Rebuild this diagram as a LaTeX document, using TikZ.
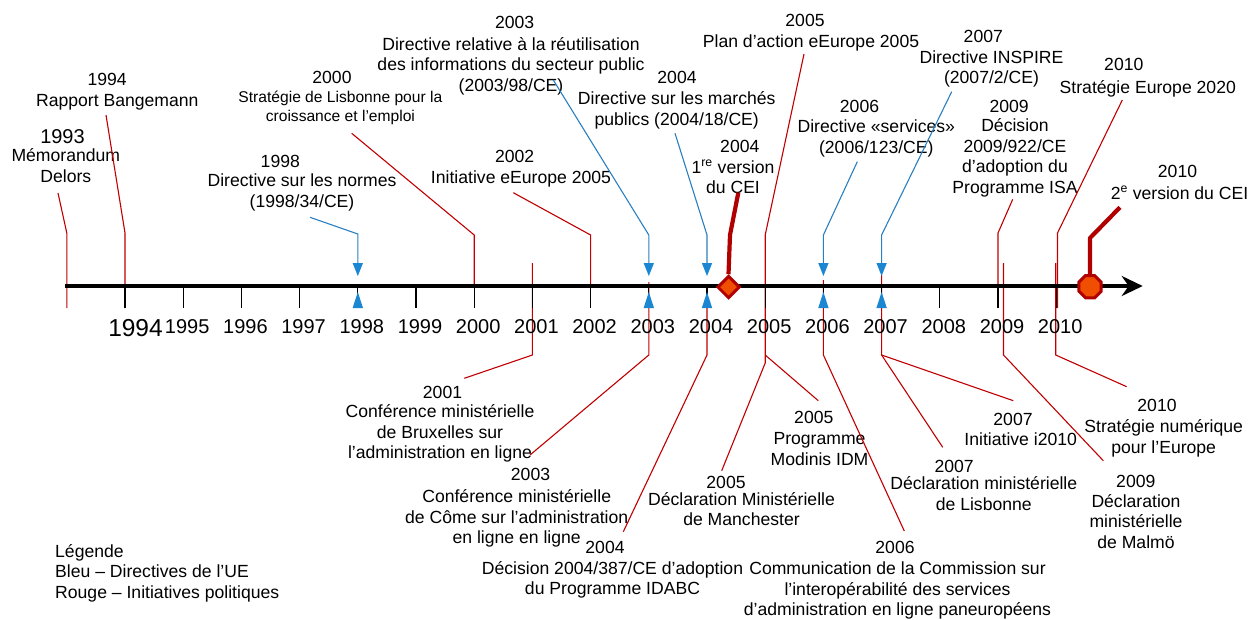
\documentclass[tikz,border=0pt]{standalone}
\usepackage{fontspec}
\setmainfont{Liberation Sans}
\usetikzlibrary{arrows.meta,shapes.geometric}
\definecolor{polred}{HTML}{C00000}
\definecolor{ceired}{HTML}{B00000}
\definecolor{ceiorange}{HTML}{F04E00}
\definecolor{dirblue}{HTML}{2A7FC0}
\definecolor{dirfill}{HTML}{1B87D3}
\begin{document}
\begin{tikzpicture}[x=1pt,y=-1pt,
  % multi-line labels are placed by the baseline of their last line
  txt/.style={align=center,inner sep=0pt,anchor=base,font=\fontsize{17.6}{20.5}\selectfont},
  smalltxt/.style={txt,font=\fontsize{15.6}{18.4}\selectfont},
  bigyear/.style={txt,font=\fontsize{20}{22}\selectfont},
  axyear/.style={inner sep=0pt,anchor=base,font=\fontsize{20}{22}\selectfont},
  pol/.style={draw=polred,line width=1.1pt},
  dir/.style={draw=dirblue,line width=1.1pt},
  ceiline/.style={draw=ceired,line width=4.2pt,line join=round},
  tickmark/.style={draw=black,line width=1.3pt},
  legendtxt/.style={align=left,inner sep=0pt,anchor=base west,font=\fontsize{17.6}{20.3}\selectfont}
]
\useasboundingbox (0,0) rectangle (1250,619);

% ---------- labels above the time axis ----------
\node[bigyear] (y1993) at (62.5,143.9) {1993};
\node[txt] (t1993) at (65.8,182.3) {Mémorandum\\Delors};
\node[txt] (y1994) at (107.2,85.6) {1994};
\node[txt] (t1994) at (117.3,106.3) {Rapport Bangemann};
\node[txt] (y2000) at (332,83.6) {2000};
\node[smalltxt] (t2000) at (340.4,121.3) {Stratégie de Lisbonne pour la\\croissance et l’emploi};
\node[txt] (y1998) at (280.3,167) {1998};
\node[txt] (t1998) at (302,207.3) {Directive sur les normes\\(1998/34/CE)};
\node[txt] (y2003a) at (514.7,28) {2003};
\node[txt] (t2003a) at (511,91.3) {Directive relative à la réutilisation\\des informations du secteur public\\(2003/98/CE)};
\node[txt] (y2004a) at (677,83.6) {2004};
\node[txt] (t2004a) at (676.7,125.3) {Directive sur les marchés\\publics (2004/18/CE)};
\node[txt] (y2002) at (514.7,162) {2002};
\node[txt] (t2002) at (521,183) {Initiative eEurope 2005};
\node[txt] (y2004c) at (739.8,152) {2004};
\node[txt] (t2004c) at (733,193.6) {1\textsuperscript{re} version\\du CEI};
\node[txt] (y2005a) at (805,26.3) {2005};
\node[txt] (t2005a) at (811,47) {Plan d’action eEurope 2005};
\node[txt] (y2007a) at (983.3,42.3) {2007};
\node[txt] (t2007a) at (991.5,83.6) {Directive INSPIRE\\(2007/2/CE)};
\node[txt] (y2006a) at (859.5,112) {2006};
\node[txt] (t2006a) at (876.3,153) {Directive «services»\\(2006/123/CE)};
\node[txt] (y2009a) at (1009.2,112.3) {2009};
\node[txt] (t2009a) at (1015,193) {Décision\\2009/922/CE\\d’adoption du\\Programme ISA};
\node[txt] (y2010a) at (1123.8,70.6) {2010};
\node[txt] (t2010a) at (1147.8,93) {Stratégie Europe 2020};
\node[txt] (y2010c) at (1177.5,177) {2010};
\node[txt] (t2010c) at (1179.5,199) {2\textsuperscript{e} version du CEI};

% ---------- labels below the time axis ----------
\node[txt] (y2001b) at (442.5,398) {2001};
\node[txt] (t2001b) at (440,458.6) {Conférence ministérielle\\de Bruxelles sur\\l’administration en ligne};
\node[txt] (y2003b) at (530.5,480.3) {2003};
\node[txt] (t2003b) at (516.7,543.6) {Conférence ministérielle\\de Côme sur l’administration\\en ligne en ligne};
\node[txt] (y2004b) at (605,553.6) {2004};
\node[txt] (t2004b) at (612.5,594.6) {Décision 2004/387/CE d’adoption\\du Programme IDABC};
\node[txt] (y2005m) at (726,488.6) {2005};
\node[txt] (t2005m) at (741.5,525.6) {Déclaration Ministérielle\\de Manchester};
\node[txt] (y2005p) at (813.8,423.6) {2005};
\node[txt] (t2005p) at (819.5,465.3) {Programme\\Modinis IDM};
\node[txt] (y2006b) at (895,553.6) {2006};
\node[txt] (t2006b) at (897.5,615.6) {Communication de la Commission sur\\l’interopérabilité des services\\d’administration en ligne paneuropéens};
\node[txt] (y2007i) at (1013,425.6) {2007};
\node[txt] (t2007i) at (1020.7,445.6) {Initiative i2010};
\node[txt] (y2007l) at (954.2,472) {2007};
\node[txt] (t2007l) at (983.8,510.3) {Déclaration ministérielle\\de Lisbonne};
\node[txt] (y2009b) at (1135.8,487.3) {2009};
\node[txt] (t2009b) at (1136,548) {Déclaration\\ministérielle\\de Malmö};
\node[txt] (y2010b) at (1157,411.3) {2010};
\node[txt] (t2010b) at (1163.7,453) {Stratégie numérique\\pour l’Europe};

% legend
\node[legendtxt] (legend) at (55,598) {Légende\\Bleu – Directives de l’UE\\Rouge – Initiatives politiques};

% ---------- connector points ----------
% policy initiatives above the axis
\coordinate (s93) at (58,193);      \coordinate (k93) at (66.8,233);   \coordinate (e93) at (66.8,308);
\coordinate (s94) at (106,115);     \coordinate (k94) at (125,233);    \coordinate (e94) at (125,308);
\coordinate (s00) at (351.7,133.3); \coordinate (k00) at (474.2,235);  \coordinate (e00) at (474.2,286);
\coordinate (s02) at (513.3,192.7); \coordinate (k02) at (590.6,235);  \coordinate (e02) at (590.6,286);
\coordinate (s05) at (804,54);      \coordinate (k05) at (765.2,235);  \coordinate (m05) at (765.2,355);
\coordinate (n05) at (765.2,363);   \coordinate (e05m) at (721.7,470.7); \coordinate (e05p) at (818.3,400.7);
\coordinate (s09) at (1012.7,199.3); \coordinate (k09) at (998,233);   \coordinate (e09) at (998,286);
\coordinate (s10) at (1122.3,100);  \coordinate (k10) at (1057.5,233); \coordinate (e10) at (1057.5,308);
% EU directives
\coordinate (s98) at (310,217.3);   \coordinate (k98) at (357.8,234);  \coordinate (e98) at (357.8,263);
\coordinate (s03) at (553.3,80);    \coordinate (k03) at (648.8,235);  \coordinate (e03) at (648.8,263);
\coordinate (s04) at (675,133.3);   \coordinate (k04) at (707,235);    \coordinate (e04) at (707,263);
\coordinate (s06) at (857.3,161.7); \coordinate (k06) at (823.4,235);  \coordinate (e06) at (823.4,263);
\coordinate (s07) at (951.7,91.7);  \coordinate (k07) at (881.6,235);  \coordinate (e07) at (881.6,263);
% policy initiatives below the axis
\coordinate (u01) at (532.4,263);   \coordinate (m01) at (532.4,355);  \coordinate (e01b) at (464.3,378.3);
\coordinate (u03) at (648.8,282);   \coordinate (m03) at (648.8,355);  \coordinate (e03b) at (530,455);
\coordinate (u04) at (707,290);     \coordinate (m04) at (707,355);    \coordinate (e04b) at (623.3,531.7);
\coordinate (u06) at (823.4,280);   \coordinate (m06) at (823.4,355);  \coordinate (e06b) at (904.3,531);
\coordinate (u07) at (881.6,275);   \coordinate (m07) at (881.6,355);
\coordinate (e07l) at (942.7,447.3); \coordinate (e07i) at (1013.3,400.7);
\coordinate (u09) at (1003.5,263);  \coordinate (m09) at (1003.5,355); \coordinate (e09b) at (1103.3,460.7);
\coordinate (u10) at (1055.7,263);  \coordinate (m10) at (1055.7,355); \coordinate (e10b) at (1126.7,386.7);
% CEI versions
\coordinate (s04c) at (738.3,192.7); \coordinate (k04c) at (730,235);
\coordinate (s10c) at (1120,207.3);  \coordinate (k10c) at (1090,238);

% ---------- connectors ----------
\draw[pol] (s93) -- (k93) -- (e93);
\draw[pol] (s94) -- (k94) -- (e94);
\draw[pol] (s00) -- (k00) -- (e00);
\draw[pol] (s02) -- (k02) -- (e02);
\draw[pol] (s05) -- (k05) -- (n05) -- (e05m);
\draw[pol] (m05) -- (e05p);
\draw[pol] (s09) -- (k09) -- (e09);
\draw[pol] (s10) -- (k10) -- (e10);
\draw[pol] (u01) -- (m01) -- (e01b);
\draw[pol] (u03) -- (m03) -- (e03b);
\draw[pol] (u04) -- (m04) -- (e04b);
\draw[pol] (u06) -- (m06) -- (e06b);
\draw[pol] (u07) -- (m07) -- (e07l);
\draw[pol] (m07) -- (e07i);
\draw[pol] (u09) -- (m09) -- (e09b);
\draw[pol] (u10) -- (m10) -- (e10b);

\draw[dir] (s98) -- (k98) -- (e98);
\draw[dir] (s03) -- (k03) -- (e03);
\draw[dir] (s04) -- (k04) -- (e04);
\draw[dir] (s06) -- (k06) -- (e06);
\draw[dir] (s07) -- (k07) -- (e07);

% ---------- time axis ----------
\coordinate (axstart) at (65,286);
\coordinate (axend) at (1142.7,286);
\draw[line width=4pt,-{Stealth[length=21pt,width=20pt,inset=7pt]}] (axstart) -- (axend);
\foreach \yr in {1994,...,2010}
  \draw[tickmark] ({125+(\yr-1994)*58.2},286) -- ({125+(\yr-1994)*58.2},308);
\node[axyear,font=\fontsize{24.5}{26}\selectfont] (ax1994) at (135.5,336.8) {1994};
\foreach \yr in {1995,...,2010}
  \node[axyear] (ax\yr) at ({129+(\yr-1994)*58.2},333.9) {\yr};

% directive markers on the axis
\foreach \xx in {357.8,648.8,707,823.4,881.6}{
  \fill[dirfill] (\xx-5.2,263) -- (\xx+5.2,263) -- (\xx,276) -- cycle;
  \fill[dirfill] (\xx-5.2,308) -- (\xx+5.2,308) -- (\xx,292) -- cycle;
}

% CEI versions
\node[diamond,draw=ceired,fill=ceiorange,line width=3pt,inner sep=0pt,
      minimum width=22.5pt,minimum height=22.5pt] (d04) at (728.5,287) {};
\node[regular polygon,regular polygon sides=8,draw=ceired,fill=ceiorange,line width=3pt,
      inner sep=0pt,minimum size=24pt] (o10) at (1090,286.7) {};
\draw[ceiline] (s04c) -- (k04c) -- (d04.north);
\draw[ceiline] (s10c) -- (k10c) -- (o10.north);
\end{tikzpicture}
\end{document}
